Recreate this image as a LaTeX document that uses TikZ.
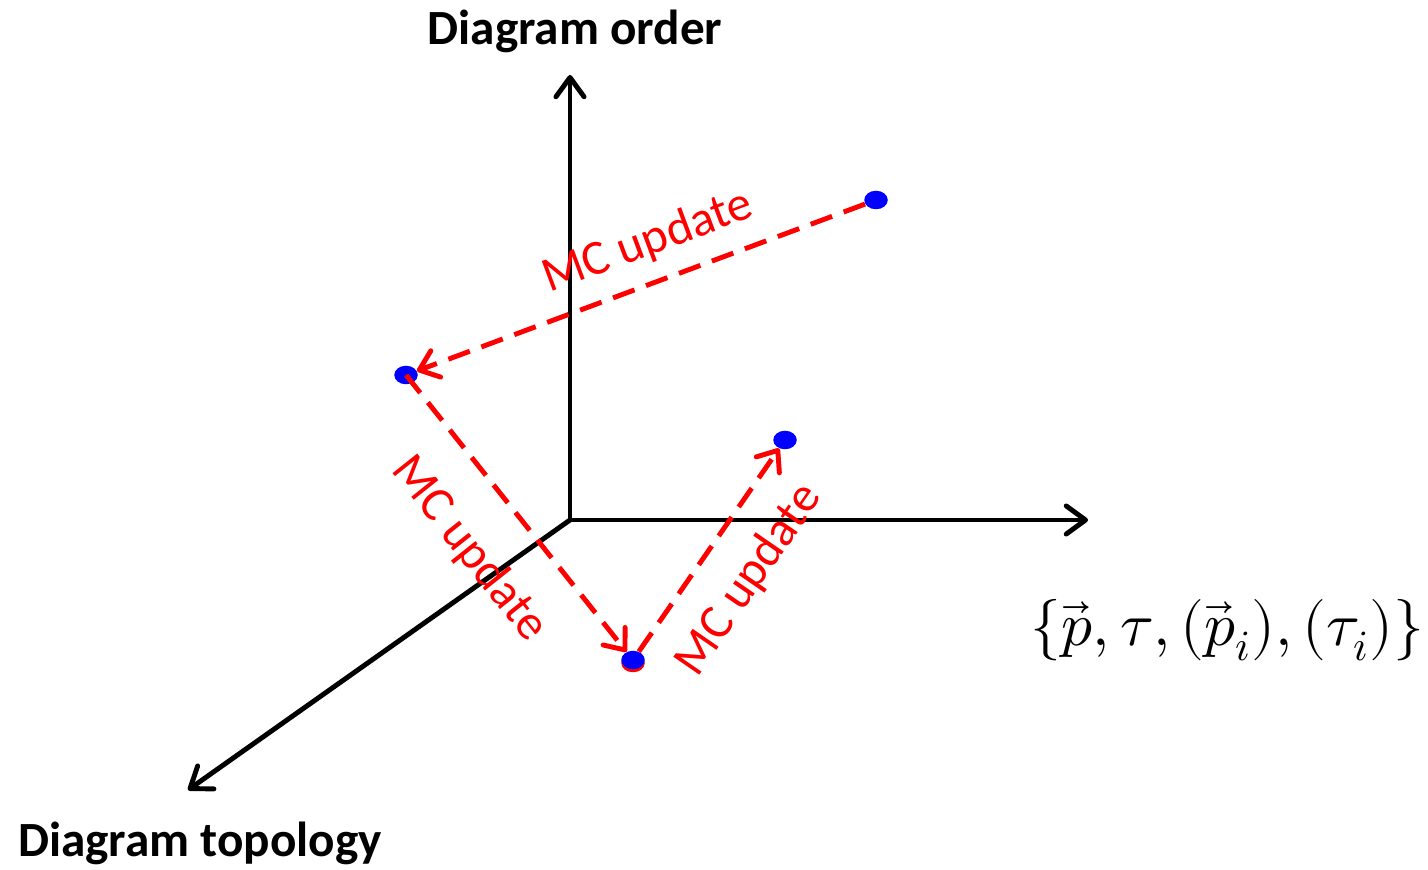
\documentclass[tikz,border=0pt]{standalone}
\usepackage{fontspec}
\setmainfont{Carlito}
\usepackage{unicode-math}
\setmathfont{Latin Modern Math}
\usetikzlibrary{arrows.meta,shapes.geometric}
\definecolor{DotClr}{rgb}{0,0,1}
\definecolor{MoveClr}{rgb}{1,0,0}

\begin{document}
\begin{tikzpicture}[
  axis/.style={line width=2.8pt,line cap=round,-{Straight Barb[length=11pt,width=16pt,line width=2.8pt,round]}},
  mcmove/.style={draw=MoveClr,line width=2.8pt,dash pattern=on 13pt off 7pt,-{Straight Barb[length=10pt,width=16pt,line width=2.8pt,round]}},
  dot/.style={ellipse,fill=DotClr,inner sep=0pt,minimum width=0.47cm,minimum height=0.37cm},
  mclabel/.style={text=MoveClr,font=\fontsize{28}{33}\selectfont},
  axlabel/.style={font=\bfseries\fontsize{28}{34}\selectfont}]
\useasboundingbox (0,0) rectangle (28.56,17.38);

\coordinate (o) at (11.4,6.98);
\coordinate (order) at (11.4,15.88);
\coordinate (conf) at (21.76,6.98);
\coordinate (topo) at (3.76,1.58);

\draw[axis] (o) -- (order);
\draw[axis] (o) -- (conf);
\draw[axis] (o) -- (topo);

\node[axlabel] (ordertext) at (11.5,16.76) {Diagram order};
\node[axlabel] (topotext) at (4.0,0.52) {Diagram topology};
\node (conftext) at (24.54,4.78) {\fontsize{35}{42}\selectfont$\{\vec{p},\tau,(\vec{p}_i),(\tau_i)\}$};

% configurations
\fill[MoveClr] (12.66,4.12) ellipse (0.235cm and 0.185cm);
\node[dot] (p1) at (17.52,13.38) {};
\node[dot] (p2) at (8.12,9.88) {};
\node[dot] (p3) at (12.66,4.18) {};
\node[dot] (p4) at (15.7,8.58) {};

\draw[mcmove] (p1) -- (p2);
\draw[mcmove] (p2.center) -- (p3);
\draw[mcmove] (p3) -- (p4);

\node[mclabel,rotate=20.4] (mc1) at (12.96,12.54) {MC update};
\node[mclabel,rotate=-51.5] (mc2) at (9.38,6.4) {MC update};
\node[mclabel,rotate=55.4] (mc3) at (14.98,5.78) {MC update};

\end{tikzpicture}
\end{document}
